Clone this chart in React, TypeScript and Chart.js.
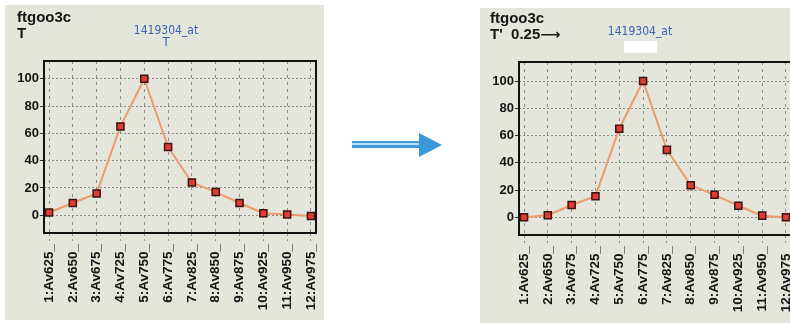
import React, { useEffect, useRef } from "react";
import { Chart, registerables } from "chart.js";

Chart.register(...registerables);

const leftLabels = ["1:Av625_", "2:Av650_", "3:Av675_", "4:Av725_", "5:Av750_", "6:Av775_", "7:Av825_", "8:Av850_", "9:Av875_", "10:Av925_", "11:Av950_", "12:Av975_"];
const rightLabels = ["1:Av625_", "2:Av650_", "3:Av675_", "4:Av725_", "5:Av750_", "6:Av775_", "7:Av825_", "8:Av850_", "9:Av875_", "10:Av925_", "11:Av950_", "12:Av975_"];
const leftValues = [2, 9, 16, 65, 100, 50, 24, 17, 9, 1.5, 0.5, -0.5];
const rightValues = [0, 1.5, 9, 15.5, 65, 100, 49.5, 23.5, 16.5, 8.5, 1.2, 0];
const yTickValues = [0, 20, 40, 60, 80, 100];

const PANEL_BG = "#e4e5db";
const GRID = "#8c8c88";
const LINE = "#ee9a6c";
const MARK = "#e23b35";
const MARK_EDGE = "#3a1512";
const SANS = "'Liberation Sans', Arial, sans-serif";
const COND = "'DejaVu Sans Condensed', 'Liberation Sans', sans-serif";

type Area = { left: number; top: number; right: number; bottom: number };

function ChartPanel(props: {
  left: number; top: number; width: number; height: number;
  values: number[]; labels: string[]; area: Area; yMin: number; yMax: number;
}) {
  const ref = useRef<HTMLCanvasElement>(null);
  const { width, height, values, labels, area, yMin, yMax } = props;
  useEffect(() => {
    if (!ref.current) return;
    const frame = {
      id: "frame",
      beforeDatasetsDraw(chart: any) {
        const { ctx, chartArea: a } = chart;
        ctx.save();
        ctx.strokeStyle = "#111";
        ctx.lineWidth = 2;
        ctx.strokeRect(a.left, a.top, a.right - a.left, a.bottom - a.top);
        ctx.restore();
      },
    };
    const chart = new Chart(ref.current, {
      type: "line",
      data: {
        datasets: [
          {
            data: values.map((v, i) => ({ x: i + 1, y: v })),
            borderColor: LINE,
            borderWidth: 2,
            pointStyle: "rect",
            pointRadius: 5,
            pointBackgroundColor: MARK,
            pointBorderColor: MARK_EDGE,
            pointBorderWidth: 1.5,
            tension: 0,
            clip: false,
          } as any,
        ],
      },
      options: {
        animation: false,
        responsive: false,
        maintainAspectRatio: false,
        layout: { padding: { left: 0, top: area.top, right: width - area.right, bottom: 0 } },
        plugins: { legend: { display: false }, tooltip: { enabled: false }, title: { display: false } },
        scales: {
          x: {
            type: "linear",
            min: 0.79,
            max: 12.21,
            afterBuildTicks: (s: any) => {
              s.ticks = labels.map((_, i) => ({ value: i + 1 }));
            },
            afterFit: (s: any) => {
              s.height = height - area.bottom;
              s.paddingLeft = 0;
              s.paddingRight = 0;
            },
            ticks: {
              autoSkip: false,
              minRotation: 90,
              maxRotation: 90,
              padding: 3,
              color: "#141414",
              font: { family: SANS, size: 13.5, weight: "bold" },
              callback: (v: any) => labels[Math.round(v) - 1] ?? "",
            },
            grid: {
              color: GRID,
              lineWidth: 1,
              tickLength: 8,
              tickColor: GRID,
              tickBorderDash: [3, 3],
            },
            border: { display: false, dash: [3, 4] },
          },
          y: {
            min: yMin,
            max: yMax,
            afterBuildTicks: (s: any) => {
              s.ticks = yTickValues.map((v) => ({ value: v }));
            },
            afterFit: (s: any) => {
              s.width = area.left;
              s.paddingTop = 0;
              s.paddingBottom = 0;
            },
            ticks: {
              padding: 1,
              color: "#141414",
              font: { family: SANS, size: 13, weight: "bold" },
            },
            grid: {
              color: GRID,
              lineWidth: 1,
              tickLength: 4,
              tickColor: "#333",
              tickBorderDash: [],
            },
            border: { display: false, dash: [2, 2] },
          },
        },
      } as any,
      plugins: [frame],
    });
    return () => chart.destroy();
  }, []);
  return (
    <canvas
      ref={ref}
      width={width}
      height={height}
      style={{ position: "absolute", left: props.left, top: props.top, width, height, background: PANEL_BG }}
    />
  );
}

const headStyle: React.CSSProperties = {
  position: "absolute",
  fontFamily: SANS,
  fontWeight: "bold",
  fontSize: 15,
  lineHeight: "16px",
  color: "#161616",
  whiteSpace: "pre",
};

const titleStyle: React.CSSProperties = {
  position: "absolute",
  fontFamily: COND,
  fontSize: 12,
  lineHeight: "12px",
  color: "#3b62ad",
  textAlign: "center",
  width: 120,
  whiteSpace: "pre",
};

export default function App() {
  return (
    <div style={{ position: "fixed", left: 0, top: 0, width: 790, height: 323, background: "#ffffff", overflow: "hidden" }}>
      <ChartPanel
        left={5} top={5} width={319} height={315}
        values={leftValues} labels={leftLabels}
        area={{ left: 39, top: 56, right: 311, bottom: 228 }}
        yMin={-13} yMax={113}
      />
      <div style={{ ...headStyle, left: 17, top: 9 }}>{"ftgoo3c\nT"}</div>
      <div style={{ ...titleStyle, left: 106, top: 24 }}>1419304_at</div>
      <div style={{ ...titleStyle, left: 106, top: 36, fontSize: 13 }}>T</div>

      <div style={{ position: "absolute", left: 352, top: 141, width: 68, height: 2, background: "#3f9bd9" }} />
      <div style={{ position: "absolute", left: 352, top: 143, width: 68, height: 2, background: "#b9dcf3" }} />
      <div style={{ position: "absolute", left: 352, top: 145, width: 68, height: 3, background: "#3f9bd9" }} />
      <div style={{ position: "absolute", left: 419, top: 133, width: 0, height: 0, borderTop: "12px solid transparent", borderBottom: "12px solid transparent", borderLeft: "23px solid #3a98d8" }} />

      <ChartPanel
        left={480} top={8} width={320} height={315}
        values={rightValues} labels={rightLabels}
        area={{ left: 39, top: 54, right: 311, bottom: 227 }}
        yMin={-13} yMax={114}
      />
      <div style={{ ...headStyle, left: 490, top: 10 }}>
        {"ftgoo3c\nT'  0.25"}
        <span style={{ fontFamily: "'DejaVu Sans', sans-serif", fontWeight: "bold", fontSize: 14 }}>{"\u27F6"}</span>
      </div>
      <div style={{ ...titleStyle, left: 580, top: 25 }}>1419304_at</div>
      <div style={{ position: "absolute", left: 624, top: 41, width: 33, height: 12, background: "#ffffff" }} />
    </div>
  );
}
